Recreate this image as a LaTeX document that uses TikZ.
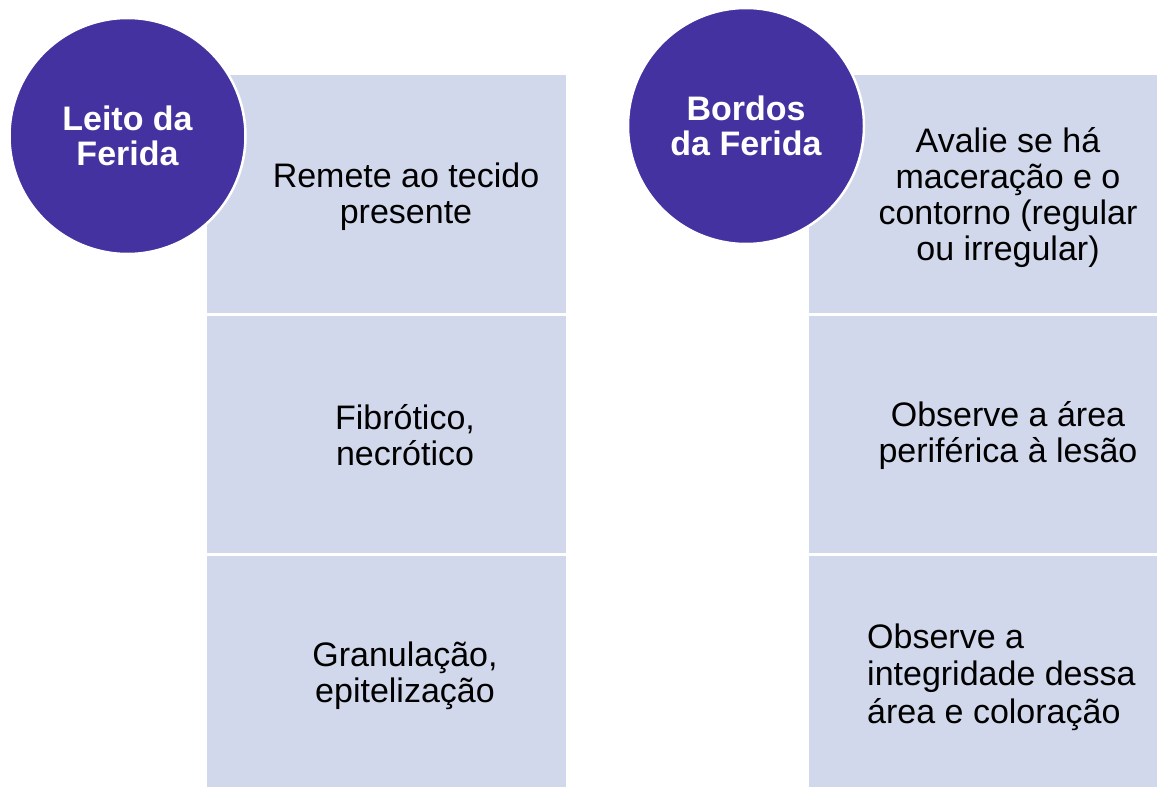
\documentclass[tikz,border=0pt]{standalone}
\usepackage{fontspec}
\setmainfont{Liberation Sans}
\definecolor{boxfill}{HTML}{D2D8EB}
\definecolor{circfill}{HTML}{4332A0}
\begin{document}
\begin{tikzpicture}[x=1pt,y=-1pt,
  panel/.style={fill=boxfill,draw=none},
  disc/.style={circle,fill=circfill,draw=white,line width=2.5pt,minimum size=236pt,inner sep=0pt,
    text=white,font=\bfseries\fontsize{34}{35}\selectfont,align=center},
  body/.style={text=black,font=\fontsize{34}{36}\selectfont,align=center,inner sep=0pt}]
\useasboundingbox[fill=white] (0,0) rectangle (1157,787);
% left column panels
\fill[panel] (207,75) rectangle (566,313);
\fill[panel] (207,316) rectangle (566,553);
\fill[panel] (207,556) rectangle (566,787);
% right column panels
\fill[panel] (809,75) rectangle (1157,313);
\fill[panel] (809,316) rectangle (1157,553);
\fill[panel] (809,556) rectangle (1157,787);
% texts
\node[body] (l1) at (406,197) {Remete ao tecido\\presente};
\node[body] (l2) at (405,435) {Fibrótico,\\necrótico};
\node[body] (l3) at (405,676) {Granulação,\\epitelização};
\node[body] (r1) at (1008,197.5) {Avalie se há\\maceração e o\\contorno (regular\\ou irregular)};
\node[body] (r2) at (1008,436) {Observe a área\\periférica à lesão};
\node[body,align=left,anchor=west,font=\fontsize{34}{37.5}\selectfont] (r3) at (867,677) {Observe a\\integridade dessa\\área e coloração};
% circles
\node[disc] (c1) at (127.5,136) {Leito da\\Ferida};
\node[disc] (c2) at (746,126) {Bordos\\da Ferida};
\end{tikzpicture}
\end{document}
